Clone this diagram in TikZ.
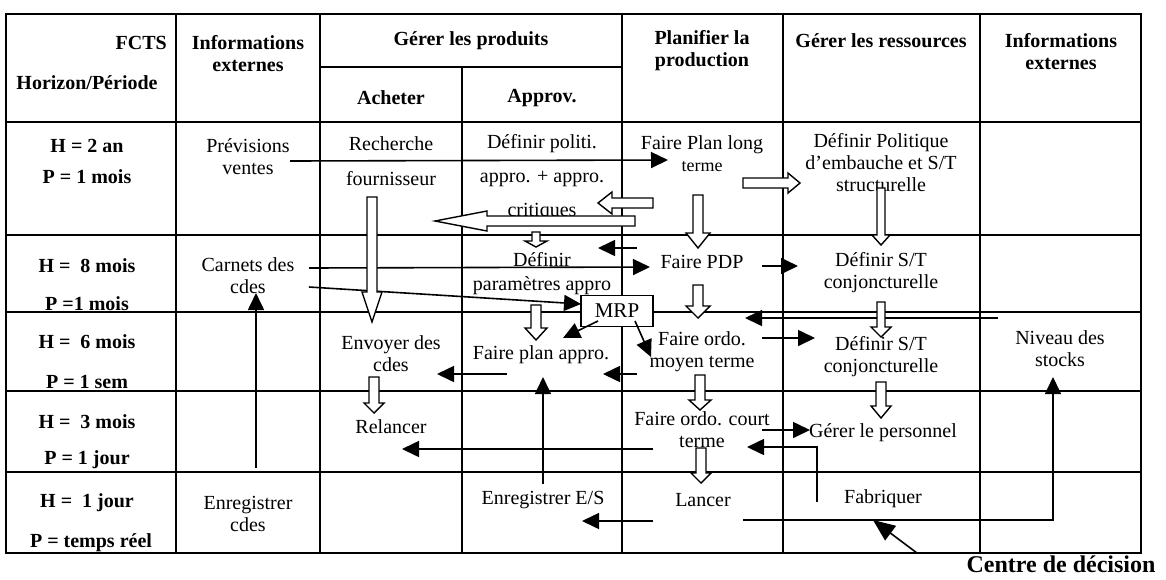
\documentclass[tikz,border=0pt]{standalone}
\usepackage{fontspec}
\setmainfont{Liberation Serif}
\usetikzlibrary{arrows.meta}
\newcommand\blkdown[6]{% x, ytop, ytip, bodyhalf, headhalf, headlen
  \draw[blk] ({#1-#4},#2) -- ({#1+#4},#2) -- ({#1+#4},{#3-#6}) -- ({#1+#5},{#3-#6}) -- (#1,#3) -- ({#1-#5},{#3-#6}) -- ({#1-#4},{#3-#6}) -- cycle;}
\newcommand\blkh[6]{% xtail, xtip, y, bodyhalf, headhalf, signed headlen
  \draw[blk] (#1,{#3-#4}) -- ({#2-(#6)},{#3-#4}) -- ({#2-(#6)},{#3-#5}) -- (#2,#3) -- ({#2-(#6)},{#3+#5}) -- ({#2-(#6)},{#3+#4}) -- (#1,{#3+#4}) -- cycle;}
\begin{document}
\begin{tikzpicture}[x=1pt,y=-1pt,
  grid/.style={line width=1.7pt},
  txt/.style={font=\fontsize{20}{22}\selectfont, align=center, inner sep=0pt},
  bld/.style={font=\fontsize{20}{22}\selectfont\bfseries, align=center, inner sep=0pt},
  conn/.style={line width=1.6pt, -{Triangle[length=17pt,width=16pt]}},
  blk/.style={draw, line width=1.4pt, fill=white, line join=miter},
]
\useasboundingbox (0,0) rectangle (1166,579);

% ---------- grid ----------
\draw[grid] (6,14) rectangle (1141,553);
\foreach \yy in {122,235,312,391,472} \draw[grid] (6,\yy) -- (1141,\yy);
\draw[grid] (320,67) -- (622,67);
\foreach \xx in {176,320,622,783,980} \draw[grid] (\xx,14) -- (\xx,553);
\draw[grid] (462,67) -- (462,553);

% ---------- header ----------
\node[bld, anchor=east] (fcts) at (167,43) {FCTS};
\node[bld] (horizon) at (87,83) {Horizon/Période};
\node[bld] (ie1) at (248,54) {Informations\\externes};
\node[bld] (gp) at (471,41) {Gérer les produits};
\node[bld] (acheter) at (391,98) {Acheter};
\node[bld] (approv) at (542,98) {Approv.};
\node[bld] (plan) at (702,51) {Planifier la\\production};
\node[bld] (gr) at (881,41) {Gérer les ressources};
\node[bld] (ie2) at (1061,52) {Informations\\externes};

% ---------- row labels ----------
\node[bld] (h1) at (87,146) {H = 2 an};
\node[bld] (p1) at (87,177) {P = 1 mois};
\node[bld] (h2) at (87,266) {H =~ 8 mois};
\node[bld] (p2) at (87,304) {P =1 mois};
\node[bld] (h3) at (87,342) {H =~ 6 mois};
\node[bld] (p3) at (87,382) {P = 1 sem};
\node[bld] (h4) at (87,422) {H =~ 3 mois};
\node[bld] (p4) at (87,460) {P = 1 jour};
\node[bld] (h5) at (87,503) {H =~ 1 jour};
\node[bld] (p5) at (91,543) {P = temps réel};

% ---------- cell texts ----------
\node[txt] (prev) at (248,157) {Prévisions\\ventes};
\node[txt] (rech) at (391,161) {Recherche\\[13pt]fournisseur};
\node[txt] (dpol) at (542,178) {Définir politi.\\[12pt]appro. + appro.\\[12pt]critiques};
\node[txt] (flt) at (702,154) {Faire Plan long\\{\fontsize{18}{20}\selectfont terme}};
\node[txt] (demb) at (881,163) {Définir Politique\\d'embauche et S/T\\structurelle};

\node[txt] (carnets) at (248,276) {Carnets des\\cdes};
\node[txt] (dparam) at (542,274) {Définir\\[2pt]paramètres appro};
\node[txt] (pdp) at (702,262) {Faire PDP};
\node[txt] (dst1) at (881,273) {Définir S/T\\conjoncturelle};

\node[txt] (env) at (391,354) {Envoyer des\\cdes};
\node[txt] (fpa) at (541,355) {Faire plan appro.};
\node[txt] (fom) at (702,352) {Faire ordo.\\moyen terme};
\node[txt] (dst2) at (881,357) {Définir S/T\\conjoncturelle};
\node[txt] (niv) at (1060,349) {Niveau des\\stocks};

\node[txt] (rel) at (391,427) {Relancer};
\node[txt] (foc) at (702,430) {Faire ordo. court\\terme};
\node[txt] (gper) at (883,433) {Gérer le personnel};

\node[txt] (encdes) at (248,514) {Enregistrer\\cdes};
\node[txt] (ees) at (543,500) {Enregistrer E/S};
\node[txt] (lancer) at (703,500) {Lancer};
\node[txt] (fab) at (883,499) {Fabriquer};

\node[font=\fontsize{24}{28}\selectfont\bfseries, inner sep=0pt] (centre) at (1061,564) {Centre de décision};

% ---------- connector end points ----------
\coordinate (prevOut) at (290,161);
\coordinate (fltIn) at (668,160);
\coordinate (carOutA) at (309,268);
\coordinate (pdpIn) at (650,267);
\coordinate (carOutB) at (309,287);
\coordinate (mrpIn) at (581,304);
\coordinate (pdpOutL) at (637,248);
\coordinate (dparamIn) at (598,248);
\coordinate (pdpOutR) at (762,266);
\coordinate (dst1In) at (798,266);
\coordinate (mrpOutL) at (598,321);
\coordinate (fpaInM) at (563,338);
\coordinate (mrpOutR) at (635,321);
\coordinate (fomInM) at (651,357);
\coordinate (ie2Out) at (998,318);
\coordinate (fomInR) at (745,318);
\coordinate (fomOutR) at (762,338);
\coordinate (dst2In) at (815,338);
\coordinate (fomOutL) at (637,374);
\coordinate (fpaInR) at (603,374);
\coordinate (fpaOut) at (507,374);
\coordinate (envIn) at (437,374);
\coordinate (eesOut) at (543,484);
\coordinate (fpaInB) at (543,377);
\coordinate (encOut) at (256,468);
\coordinate (carIn) at (256,293);
\coordinate (focOutL) at (653,449);
\coordinate (relIn) at (402,449);
\coordinate (focOutR) at (762,430);
\coordinate (gperIn) at (810,430);
\coordinate (fabOut) at (817,502);
\coordinate (fabBend) at (817,447);
\coordinate (focIn) at (747,447);
\coordinate (lanOutL) at (653,521);
\coordinate (eesIn) at (582,521);
\coordinate (lanOutR) at (743,520);
\coordinate (lanBend) at (1053,520);
\coordinate (nivIn) at (1053,377);
\coordinate (centreOut) at (917,553);
\coordinate (centreIn) at (873,520);

% ---------- connectors ----------
\draw[conn] (prevOut) -- (fltIn);
\draw[conn] (carOutA) -- (pdpIn);
\draw[conn] (carOutB) -- (mrpIn);
\draw[conn] (pdpOutL) -- (dparamIn);
\draw[conn] (pdpOutR) -- (dst1In);
\draw[conn] (ie2Out) -- (fomInR);
\draw[conn] (fomOutR) -- (dst2In);
\draw[conn] (fomOutL) -- (fpaInR);
\draw[conn] (fpaOut) -- (envIn);
\draw[conn] (eesOut) -- (fpaInB);
\draw[conn] (encOut) -- (carIn);
\draw[conn] (focOutL) -- (relIn);
\draw[conn] (focOutR) -- (gperIn);
\draw[conn] (fabOut) -- (fabBend) -- (focIn);
\draw[conn] (lanOutL) -- (eesIn);
\draw[conn] (lanOutR) -- (lanBend) -- (nivIn);
\draw[line width=1.6pt, -{Triangle[length=22pt,width=18pt]}] (centreOut) -- (centreIn);

% ---------- hollow block arrows ----------
\blkdown{372}{197}{322}{5}{10}{30}
\blkdown{698}{195}{248}{5}{12}{15}
\blkdown{881}{188}{245}{4}{9}{10}
\blkdown{536}{232}{247}{4}{11}{6}
\blkdown{698}{285}{318}{5}{12}{12}
\blkdown{536}{305}{340}{5}{11}{12}
\blkdown{881}{302}{337}{4}{10}{10}
\blkdown{374}{377}{413}{5}{10}{10}
\blkdown{700}{375}{410}{5}{11}{10}
\blkdown{881}{382}{418}{5}{10}{12}
\blkdown{701}{448}{483}{5}{10}{10}
\blkh{743}{800}{183}{5}{10}{12}
\blkh{653}{598}{203}{5}{11}{-14}
\blkh{635}{435}{221}{5}{10}{-52}

% ---------- MRP ----------
\node[draw, line width=1.6pt, fill=white, minimum width=72pt, minimum height=31pt, inner sep=0pt,
      font=\fontsize{21}{22}\selectfont] (mrp) at (617,311) {MRP};
\draw[conn] (mrpOutL) -- (fpaInM);
\draw[conn] (mrpOutR) -- (fomInM);
\end{tikzpicture}
\end{document}
